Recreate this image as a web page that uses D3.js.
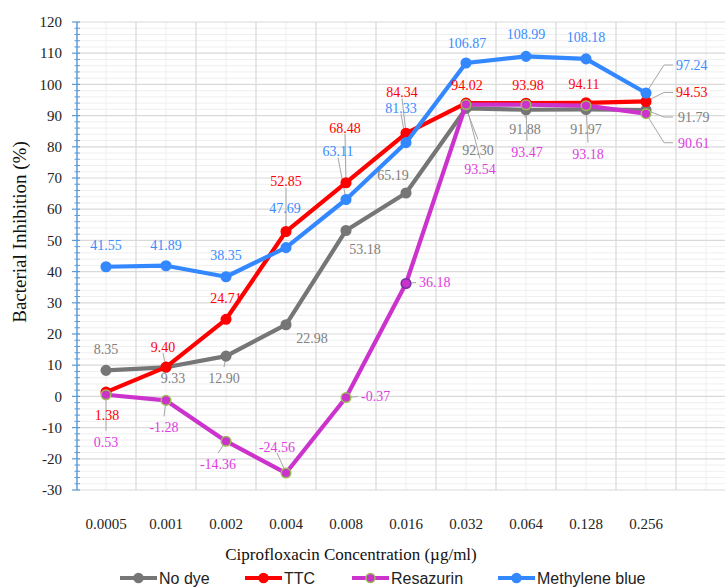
<!DOCTYPE html>
<html><head><meta charset="utf-8">
<script src="https://cdn.jsdelivr.net/npm/d3@7"></script>
<style>body{margin:0;background:#fff}svg{display:block}</style>
</head><body>
<svg id="c" width="725" height="588"></svg>
<script>
// ---- data ----
const categories = ["0.0005","0.001","0.002","0.004","0.008","0.016","0.032","0.064","0.128","0.256"];
const noDye = [8.35, 9.33, 12.90, 22.98, 53.18, 65.19, 92.30, 91.88, 91.97, 91.79];
const ttc = [1.38, 9.40, 24.71, 52.85, 68.48, 84.34, 94.02, 93.98, 94.11, 94.53];
const resazurin = [0.53, -1.28, -14.36, -24.56, -0.37, 36.18, 93.54, 93.47, 93.18, 90.61];
const methyleneBlue = [41.55, 41.89, 38.35, 47.69, 63.11, 81.33, 106.87, 108.99, 108.18, 97.24];
const yTicks = [-30,-20,-10,0,10,20,30,40,50,60,70,80,90,100,110,120];
const seriesNames = ["No dye","TTC","Resazurin","Methylene blue"];

// ---- label layout (dx, dy from point; anchor; leader) ----
const labelLayout = {
  "No dye": [[0,-21,"m",0],[7,11,"m",0],[-2,22,"m",1],[26,13,"m",0],[19,19,"m",0],[-13,-18,"m",0],[12,42,"m",1],[-1,19,"m",1],[0,20,"m",0],[32,7,"e",1]],
  "TTC": [[1,23,"m",0],[-3,-20,"m",1],[0,-21,"m",0],[0,-50,"m",1],[-1,-55,"m",1],[-4,-41,"m",1],[1,-18,"m",0],[2,-18,"m",0],[-2,-19,"m",0],[30,-9,"e",1]],
  "Resazurin": [[0,47,"m",1],[-2,27,"m",1],[-8,23,"m",1],[-9,-26,"m",1],[15,-1,"s",1],[13,-1,"s",1],[14,65,"m",1],[1,47,"m",1],[2,48,"m",1],[32,29,"e",1]],
  "Methylene blue": [[0,-22,"m",0],[0,-21,"m",0],[0,-22,"m",0],[-1,-40,"m",0],[-8,-48,"m",1],[-5,-35,"m",1],[1,-20,"m",0],[0,-22,"m",0],[0,-22,"m",0],[30,-28,"e",1]]
};

const styles = {
  "No dye": {line:"#767676", fill:"#767676", stroke:"#767676", text:"#808080"},
  "TTC": {line:"#ff0000", fill:"#ff0000", stroke:"#ff0000", text:"#ff0000"},
  "Resazurin": {line:"#cc33cc", fill:"#cc33cc", stroke:"#9bbb59", text:"#e03ce0"},
  "Methylene blue": {line:"#3388ff", fill:"#3388ff", stroke:"#3388ff", text:"#3a8cff"}
};
const seriesData = {"No dye":noDye, "TTC":ttc, "Resazurin":resazurin, "Methylene blue":methyleneBlue};

const svg = d3.select("#c");
const x = d3.scaleLinear().domain([0, categories.length-1]).range([106, 646]);
const y = d3.scaleLinear().domain([-30,120]).range([490,22]);
const left = x(-0.5), right = 725;
const serif = "'Liberation Serif','Times New Roman',serif";

// grid
const g = svg.append("g");
const minorY = d3.range(-30, 121, 2).filter(v => v % 10 !== 0);
g.selectAll(".hm").data(minorY).enter().append("line")
  .attr("x1", left).attr("x2", right).attr("y1", d=>y(d)).attr("y2", d=>y(d))
  .attr("stroke","#efefef").attr("stroke-width",1);
const minorX = d3.range(0, 11);
g.selectAll(".vm").data(minorX).enter().append("line")
  .attr("x1", d=>x(d)).attr("x2", d=>x(d)).attr("y1", y(120)).attr("y2", y(-30))
  .attr("stroke","#efefef").attr("stroke-width",1);
const majorX = d3.range(0.5, 11, 1);
g.selectAll(".vM").data(majorX).enter().append("line")
  .attr("x1", d=>x(d)).attr("x2", d=>x(d)).attr("y1", y(120)).attr("y2", y(-30))
  .attr("stroke","#d9d9d9").attr("stroke-width",1.2);
g.selectAll(".hM").data(yTicks).enter().append("line")
  .attr("x1", left).attr("x2", right).attr("y1", d=>y(d)).attr("y2", d=>y(d))
  .attr("stroke","#d9d9d9").attr("stroke-width",1.2);

// y axis
const ax = svg.append("g");
ax.append("line").attr("x1",77).attr("x2",77).attr("y1",y(120)).attr("y2",y(-30)).attr("stroke","#5b9bd5").attr("stroke-width",1.5);
ax.selectAll(".mt").data(minorY).enter().append("line")
  .attr("x1",74.5).attr("x2",80).attr("y1",d=>y(d)).attr("y2",d=>y(d)).attr("stroke","#5b9bd5").attr("stroke-width",1);
ax.selectAll(".Mt").data(yTicks).enter().append("line")
  .attr("x1",72).attr("x2",80).attr("y1",d=>y(d)).attr("y2",d=>y(d)).attr("stroke","#5b9bd5").attr("stroke-width",1.2);
ax.selectAll(".yl").data(yTicks).enter().append("text")
  .attr("x",62).attr("y",d=>y(d)).attr("dy","0.35em").attr("text-anchor","end")
  .attr("font-family",serif).attr("font-size",15).attr("fill","#222").text(d=>d);

// x tick labels
svg.selectAll(".xl").data(categories).enter().append("text")
  .attr("x",(d,i)=>x(i)).attr("y",529).attr("text-anchor","middle")
  .attr("font-family",serif).attr("font-size",15).attr("fill","#222").text(d=>d);

// titles
svg.append("text").attr("x",351).attr("y",560).attr("text-anchor","middle")
  .attr("font-family",serif).attr("font-size",17).attr("fill","#111")
  .text("Ciprofloxacin Concentration (µg/ml)");
svg.append("text").attr("transform","translate(26,232) rotate(-90)").attr("text-anchor","middle")
  .attr("font-family",serif).attr("font-size",19).attr("fill","#111")
  .text("Bacterial Inhibition (%)");

// leaders (below lines)
const leadG = svg.append("g");
const line = d3.line().x((d,i)=>x(i)).y(d=>y(d));
const seriesG = svg.append("g");
const labG = svg.append("g");

seriesNames.forEach(name => {
  const vals = seriesData[name], st = styles[name], lay = labelLayout[name];
  seriesG.append("path").datum(vals).attr("d", line).attr("fill","none")
    .attr("stroke", st.line).attr("stroke-width",4.2).attr("stroke-linejoin","round");
  seriesG.selectAll(null).data(vals).enter().append("circle")
    .attr("cx",(d,i)=>x(i)).attr("cy",d=>y(d)).attr("r",4.8)
    .attr("fill",st.fill).attr("stroke",(d,i)=> (name==="Resazurin" && i===5) ? "#7030a0" : st.stroke)
    .attr("stroke-width",1.5);
  vals.forEach((v,i) => {
    const [dx,dy,a,lead] = lay[i];
    const px = x(i), py = y(v);
    const lx = px+dx, ly = py+dy;
    if (lead) {
      let pts;
      if (a==="e") pts = [[px,py],[px+18,ly],[px+27,ly]];
      else if (a==="s") pts = [[px,py],[lx-3,ly]];
      else pts = [[px,py],[lx, ly + (dy<0 ? 6 : -11)]];
      leadG.append("path").attr("d", d3.line()(pts)).attr("fill","none")
        .attr("stroke","#a6a6a6").attr("stroke-width",1);
    }
    labG.append("text").attr("x", lx).attr("y", ly).attr("dy","0.35em")
      .attr("text-anchor", a==="m" ? "middle" : "start")
      .attr("font-family",serif).attr("font-size",14).attr("fill",st.text)
      .text(v.toFixed(2));
  });
});

// legend
const legX = [120, 245, 352, 498];
const leg = svg.append("g");
seriesNames.forEach((name,k) => {
  const st = styles[name], lx = legX[k], ly = 578;
  leg.append("line").attr("x1",lx).attr("x2",lx+37).attr("y1",ly).attr("y2",ly)
    .attr("stroke",st.line).attr("stroke-width",4.2);
  leg.append("circle").attr("cx",lx+18.5).attr("cy",ly).attr("r",4.5)
    .attr("fill",st.fill).attr("stroke",st.stroke).attr("stroke-width",1.5);
  leg.append("text").attr("x",lx+39).attr("y",ly).attr("dy","0.35em")
    .attr("font-family","'Liberation Sans',Arial,sans-serif").attr("font-size",16).attr("fill","#222")
    .text(name);
});
</script>
</body></html>
